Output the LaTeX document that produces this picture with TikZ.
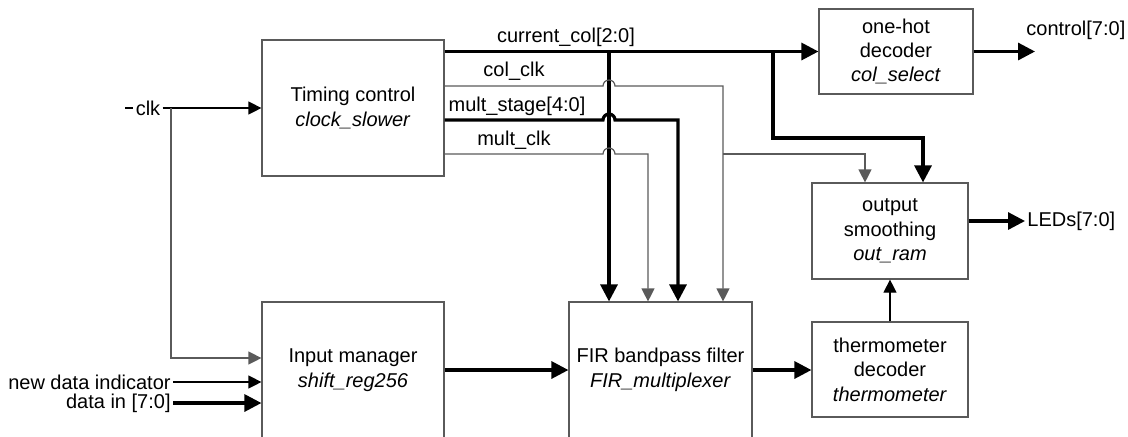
\documentclass[tikz,border=0pt]{standalone}
\usepackage{fontspec}
\setmainfont{Liberation Sans}
\usetikzlibrary{arrows.meta}
\definecolor{wiregray}{RGB}{90,90,90}
\tikzset{
  block/.style={draw=wiregray, line width=0.6pt, align=center,
    font=\fontsize{10}{12.2}\selectfont},
  lbl/.style={font=\fontsize{10}{12}\selectfont, inner sep=1pt},
  thinarr/.style={draw=wiregray, line width=0.6pt, -{Triangle[length=6.5pt,width=6.5pt]}},
  thickarr/.style={draw=black, line width=1.6pt, -{Triangle[length=8.5pt,width=8.5pt]}},
  wire/.style={draw=wiregray, line width=0.6pt},
}
\begin{document}
\begin{tikzpicture}[x=0.5pt, y=-0.5pt]
\clip (0,0) rectangle (1128,436);
% blocks
\node[block, minimum width=91pt, minimum height=68pt] (tim) at (353,108) {Timing control\\\textit{clock\_slower}};
\node[block, minimum width=91pt, minimum height=68pt] (inp) at (353,370) {Input manager\\\textit{shift\_reg256}};
\node[block, minimum width=91.5pt, minimum height=68pt] (fir) at (660.5,370) {FIR bandpass filter\\\textit{FIR\_multiplexer}};
\node[block, minimum width=77pt, minimum height=42.5pt] (hot) at (896,51.5) {one-hot\\decoder\\\textit{col\_select}};
\node[block, minimum width=78pt, minimum height=48pt] (osm) at (890,231) {output\\smoothing\\\textit{out\_ram}};
\node[block, minimum width=78pt, minimum height=47.5pt] (thm) at (890,369.5) {thermometer\\decoder\\\textit{thermometer}};

% inputs
\node[lbl] (clk) at (148,108) {clk};
\coordinate (clkin) at (125,108);
\coordinate (clkbr) at (171,108);
\draw[draw=black, line width=0.6pt] (clkin) -- (clk.west);
\draw[thinarr, draw=black] (clk.east) -- (tim.west);
\draw[thinarr] (clkbr) |- ([yshift=6pt]inp.west);
\node[lbl, anchor=east] (ndi) at (173,382) {new data indicator};
\node[lbl, anchor=east] (din) at (173,403) {data in [7:0]};
\draw[thinarr, draw=black] (ndi.east) -- ([yshift=-6pt]inp.west);
\draw[thickarr] (din.east) -- ([yshift=-16.5pt]inp.west);

% data path
\draw[thickarr] (inp.east) -- (fir.west);
\draw[thickarr] (fir.east) -- (fir.east -| thm.west);
\draw[thinarr, draw=black] (thm.north) -- (osm.south);

% outputs
\node[lbl, anchor=west] (leds) at (1025,221) {LEDs[7:0]};
\draw[thickarr] (osm.east |- leds.west) -- (leds.west);
\coordinate (ctlend) at (1035,51.5);
\node[lbl, anchor=south west] (ctl) at (1024,42) {control[7:0]};
\draw[thickarr] (hot.east) -- (ctlend);

% current_col[2:0]
\node[lbl] (ccl) at (566,37) {current\_col[2:0]};
\coordinate (cc1) at (609,51.5);
\coordinate (cc2) at (773,51.5);
\draw[thickarr] (tim.east |- hot.west) -- (hot.west);
\draw[thickarr] (cc1) -- (cc1 |- fir.north);
\draw[thickarr] (cc2) -- ++(0,86.5) -| ([xshift=16.5pt]osm.north);

% col_clk
\node[lbl] (ckl) at (514,71) {col\_clk};
\coordinate (ck1) at (723,154);
\draw[thinarr] ([yshift=11pt]tim.east) -- (603,86) arc (180:360:6) -- (723,86) -- ([xshift=31.25pt]fir.north);
\draw[thinarr] (ck1) -| ([xshift=-12.5pt]osm.north);

% mult_stage[4:0]
\node[lbl] (msl) at (517,106) {mult\_stage[4:0]};
\draw[thickarr] ([yshift=-6pt]tim.east) -- (603,120) arc (180:360:6) -- (678,120) -- ([xshift=8.75pt]fir.north);

% mult_clk
\node[lbl] (mcl) at (514,140) {mult\_clk};
\draw[thinarr] ([yshift=-23pt]tim.east) -- (603,154) arc (180:360:6) -- (648,154) -- ([xshift=-6.25pt]fir.north);
\end{tikzpicture}
\end{document}
